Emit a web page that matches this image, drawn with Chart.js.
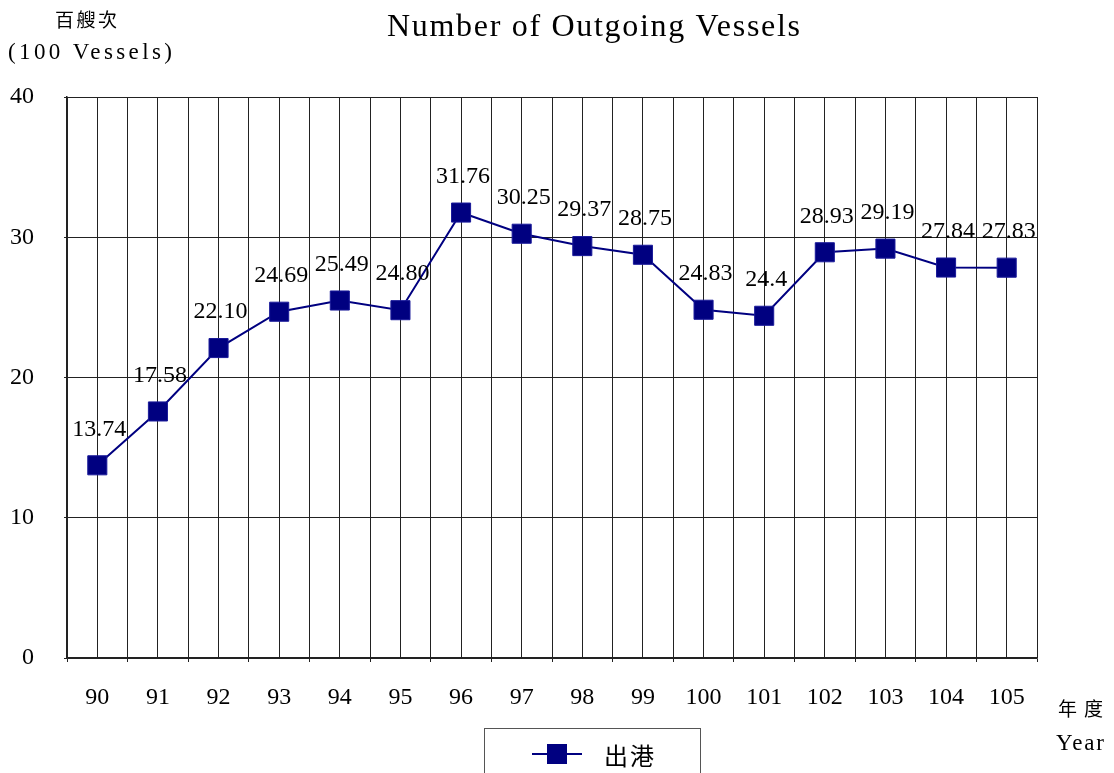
<!DOCTYPE html>
<html>
<head>
<meta charset="utf-8">
<script src="https://cdn.jsdelivr.net/npm/chart.js@4.4.1/dist/chart.umd.min.js"></script>
<style>
html,body{margin:0;padding:0;background:#fff;}
canvas{display:block;}
</style>
</head>
<body>
<canvas id="c" width="1114" height="773"></canvas>
<script>
const categories = ['90','91','92','93','94','95','96','97','98','99','100','101','102','103','104','105'];
const values = [13.74,17.58,22.10,24.69,25.49,24.80,31.76,30.25,29.37,28.75,24.83,24.4,28.93,29.19,27.84,27.83];
const valueLabels = ['13.74','17.58','22.10','24.69','25.49','24.80','31.76','30.25','29.37','28.75','24.83','24.4','28.93','29.19','27.84','27.83'];
const yMin = 0, yMax = 40, yStep = 10;
const titleText = 'Number of Outgoing Vessels';
const yUnitZh = '百艘次';
const yUnitEn = '(100 Vessels)';
const xUnitZh = '年度';
const xUnitEn = 'Year';
const seriesName = '出港';

const NAVY = '#000080';
const SERIF = "'Liberation Serif', 'Times New Roman', serif";
const CJK = "'Noto Sans CJK TC', 'Noto Sans CJK SC', sans-serif";

function drawFit(ctx, text, x, y, w, font) {
  ctx.save();
  ctx.font = font;
  ctx.letterSpacing = '0px';
  const m = ctx.measureText(text).width;
  const n = Math.max(1, text.length - 1);
  const sp = (w - m) / n;
  ctx.letterSpacing = sp + 'px';
  ctx.textAlign = 'left';
  ctx.textBaseline = 'middle';
  ctx.fillStyle = '#000';
  ctx.fillText(text, x, y);
  ctx.restore();
}

const textPlugin = {
  id: 'texts',
  afterDatasetsDraw(chart) {
    const ctx = chart.ctx;
    const meta = chart.getDatasetMeta(0);
    ctx.save();
    ctx.font = '24px ' + SERIF;
    ctx.fillStyle = '#000';
    ctx.textAlign = 'center';
    ctx.textBaseline = 'middle';
    meta.data.forEach((pt, i) => {
      ctx.fillText(valueLabels[i], pt.x + 2, pt.y - 36);
    });
    ctx.restore();
  },
  afterDraw(chart) {
    const ctx = chart.ctx;
    drawFit(ctx, titleText, 387, 28, 413, '32px ' + SERIF);
    drawFit(ctx, yUnitZh, 55, 20, 62, '19px ' + CJK);
    drawFit(ctx, yUnitEn, 8, 53, 164, '23px ' + SERIF);
    drawFit(ctx, xUnitZh, 1058, 709, 45, '19px ' + CJK);
    drawFit(ctx, xUnitEn, 1056, 744, 48, '23px ' + SERIF);
    const ds = chart.data.datasets[0];
    ctx.save();
    ctx.strokeStyle = '#555';
    ctx.lineWidth = 1;
    ctx.strokeRect(484.5, 728.5, 216, 60);
    ctx.strokeStyle = ds.borderColor;
    ctx.lineWidth = 2;
    ctx.beginPath();
    ctx.moveTo(532, 754);
    ctx.lineTo(582, 754);
    ctx.stroke();
    ctx.fillStyle = ds.pointBackgroundColor;
    ctx.fillRect(547, 744, 20, 20);
    ctx.restore();
    drawFit(ctx, seriesName, 604, 756, 50, '24px ' + CJK);
  }
};

new Chart(document.getElementById('c'), {
  type: 'line',
  data: {
    labels: categories,
    datasets: [{
      label: seriesName,
      data: values,
      xAxisID: 'x',
      yAxisID: 'y',
      borderColor: NAVY,
      borderWidth: 2,
      backgroundColor: NAVY,
      pointStyle: 'rect',
      pointRadius: 13.5,
      pointHoverRadius: 13.5,
      pointBackgroundColor: NAVY,
      pointBorderColor: '#1a1a9a',
      pointBorderWidth: 1,
      tension: 0,
      fill: false
    }]
  },
  options: {
    responsive: false,
    animation: false,
    events: [],
    layout: { padding: { left: 0, right: 77, top: 97, bottom: 0 } },
    plugins: {
      legend: { display: false },
      title: { display: false },
      tooltip: { enabled: false }
    },
    scales: {
      x: {
        type: 'category',
        position: 'bottom',
        offset: true,
        grid: { offset: true, color: '#222', lineWidth: 1, drawTicks: true, tickLength: 4, tickColor: '#222' },
        border: { display: true, color: '#222', width: 1.5 },
        ticks: { color: '#000', font: { family: SERIF, size: 24 }, padding: 21, maxRotation: 0, autoSkip: false },
        afterFit(s) { s.height = 115; }
      },
      x2: {
        type: 'category',
        position: 'top',
        offset: true,
        grid: { offset: false, color: '#222', lineWidth: 1, drawTicks: false },
        border: { display: false },
        ticks: { display: false },
        afterFit(s) { s.height = 0; }
      },
      y: {
        type: 'linear',
        min: yMin,
        max: yMax,
        grid: { color: '#222', lineWidth: 1, drawTicks: true, tickLength: 3, tickColor: '#222' },
        border: { display: true, color: '#222', width: 1.5 },
        ticks: { stepSize: yStep, color: '#000', font: { family: SERIF, size: 24 }, padding: 30 },
        afterFit(s) { s.width = 67; }
      }
    }
  },
  plugins: [textPlugin]
});
</script>
</body>
</html>
